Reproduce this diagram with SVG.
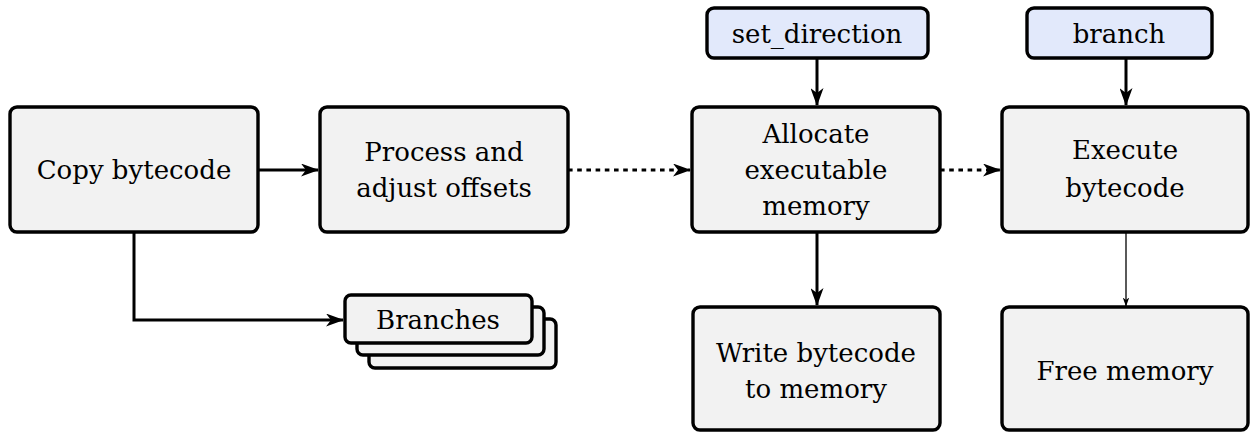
<svg xmlns="http://www.w3.org/2000/svg" width="1250" height="432" viewBox="0 0 1250 432">
<defs>
<style>
.box{fill:#f2f2f2;stroke:#000;stroke-width:3.4}
.blue{fill:#e2e9fb;stroke:#000;stroke-width:3.4}
text{font-family:"DejaVu Serif","Liberation Serif",serif;font-size:26px;fill:#000;text-anchor:middle}
.c{fill:none;stroke:#000;stroke-width:3}
.d{stroke-dasharray:4.6 4.6}
.t{stroke-width:1.3}
</style>
<marker id="ah" viewBox="0 0 18 13" refX="17" refY="6.5" markerWidth="18" markerHeight="13" markerUnits="userSpaceOnUse" orient="auto">
<path d="M0,0 L18,6.5 L0,13 L5,6.5 Z" fill="#000"/>
</marker>
<marker id="ahs" viewBox="0 0 18 13" refX="17" refY="6.5" markerWidth="9" markerHeight="7" markerUnits="userSpaceOnUse" orient="auto">
<path d="M0,0 L18,6.5 L0,13 L5,6.5 Z" fill="#000"/>
</marker>
</defs>
<g id="connectors">
<path class="c" d="M258,170 H318" marker-end="url(#ah)"/>
<path class="c d" d="M568,170 H690" marker-end="url(#ah)"/>
<path class="c d" d="M940,170 H1000" marker-end="url(#ah)"/>
<path class="c" d="M817,58 V105" marker-end="url(#ah)"/>
<path class="c" d="M1126,58 V105" marker-end="url(#ah)"/>
<path class="c" d="M817,232 V305" marker-end="url(#ah)"/>
<path class="c t" d="M1126,232 V306" marker-end="url(#ahs)"/>
<path class="c" d="M134,232 V320 H343" marker-end="url(#ah)"/>
</g>
<g id="copy">
<rect class="box" x="10" y="107" width="248" height="125" rx="7"/>
<text x="134" y="179">Copy bytecode</text>
</g>
<g id="process">
<rect class="box" x="320" y="107" width="248" height="125" rx="7"/>
<text x="444" y="161">Process and</text>
<text x="444" y="197">adjust offsets</text>
</g>
<g id="allocate">
<rect class="box" x="692" y="107" width="248" height="125" rx="7"/>
<text x="816" y="143">Allocate</text>
<text x="816" y="179">executable</text>
<text x="816" y="215">memory</text>
</g>
<g id="execute">
<rect class="box" x="1002" y="107" width="246" height="125" rx="7"/>
<text x="1125" y="159">Execute</text>
<text x="1125" y="197">bytecode</text>
</g>
<g id="set_direction">
<rect class="blue" x="707" y="8" width="221" height="50" rx="7"/>
<text x="817" y="43">set_direction</text>
</g>
<g id="branch">
<rect class="blue" x="1027" y="8" width="185" height="50" rx="7"/>
<text x="1119" y="43">branch</text>
</g>
<g id="write">
<rect class="box" x="693" y="307" width="247" height="123" rx="7"/>
<text x="816" y="362">Write bytecode</text>
<text x="816" y="398">to memory</text>
</g>
<g id="free">
<rect class="box" x="1002" y="307" width="246" height="123" rx="7"/>
<text x="1125" y="380">Free memory</text>
</g>
<g id="branches">
<rect class="box" x="369" y="319" width="187" height="49" rx="6"/>
<rect class="box" x="357" y="307" width="187" height="48" rx="6"/>
<rect class="box" x="345" y="295" width="187" height="48" rx="6"/>
<text x="438" y="329">Branches</text>
</g>
</svg>
